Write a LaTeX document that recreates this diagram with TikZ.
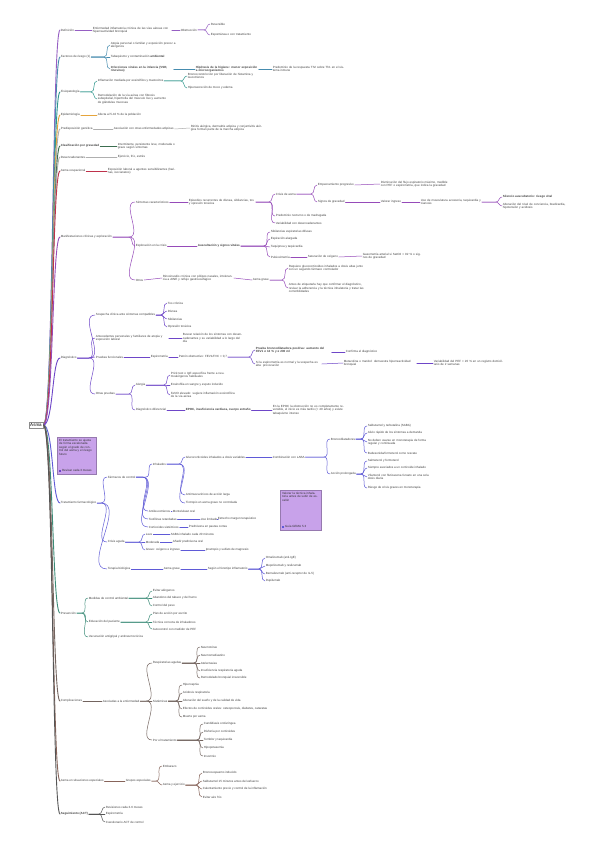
\documentclass[tikz,border=0pt]{standalone}
\usepackage{fontspec}
\setmainfont{Liberation Sans}
\usepackage{tikz}
\usetikzlibrary{calc}
\definecolor{cDef}{RGB}{150,95,195}
\definecolor{cRisk}{RGB}{70,140,175}
\definecolor{cFis}{RGB}{45,150,140}
\definecolor{cEpi}{RGB}{230,165,60}
\definecolor{cGris}{RGB}{175,175,175}
\definecolor{cCla}{RGB}{60,110,80}
\definecolor{cOcu}{RGB}{190,50,75}
\definecolor{cMan}{RGB}{150,75,185}
\definecolor{cDx}{RGB}{110,70,200}
\definecolor{cTx}{RGB}{95,90,215}
\definecolor{cPre}{RGB}{60,140,120}
\definecolor{cCom}{RGB}{115,100,95}
\definecolor{cEsp}{RGB}{135,100,90}
\definecolor{cSeg}{RGB}{85,85,85}
\definecolor{notefill}{RGB}{200,162,234}

\begin{document}
\begin{tikzpicture}[x=1pt, y=-1pt, font=\fontsize{3}{3.5}\selectfont, line cap=round,
  leaf/.style={anchor=west, inner sep=0.7pt, text=black!75},
  tw/.style={text width=#1pt, align=left},
  trunk/.style={line width=0.9pt},
  link/.style={line width=0.5pt},
  notebox/.style={anchor=north west, fill=notefill, draw=notefill!75!black, line width=0.2pt, inner sep=0pt},
  notetxt/.style={inner sep=0pt, text=black!80}]
  % Blatt
  \fill[white] (0,0) rectangle (599,848);
  \useasboundingbox (0,0) rectangle (599,848);
  % Wurzel
  \node[draw=black!45, fill=white, inner sep=1.5pt, font=\fontsize{4.5}{5}\selectfont] (root) at (36,425) {Asma};

  % Hauptzweige
  \node[leaf] (d1) at (60,30) {Definición};
  \node[leaf] (d2) at (60,57) {Factores de riesgo (1)};
  \node[leaf] (d3) at (60,92) {Fisiopatología};
  \node[leaf] (d4) at (60,115) {Epidemiología};
  \node[leaf] (d5) at (60,129) {Predisposición genética};
  \node[leaf] (d6) at (60,146) {\bfseries Clasificación por gravedad};
  \node[leaf] (d7) at (60,157) {Desencadenantes};
  \node[leaf] (d8) at (60,171) {Asma ocupacional};
  \node[leaf] (d9) at (60,237) {Manifestaciones clínicas y exploración};
  \node[leaf] (d10) at (60,358) {Diagnóstico};
  \node[leaf] (d12) at (60,503) {Tratamiento farmacológico};
  \node[leaf] (d13) at (60,613) {Prevención};
  \node[leaf] (d14) at (60,701) {Complicaciones};
  \node[leaf] (d15) at (60,781) {Asma en situaciones especiales};
  \node[leaf] (d16) at (60,814) {\bfseries Seguimiento (ACT)};
  \foreach \d/\c in {d1/cDef, d2/cRisk, d3/cFis, d4/cEpi, d5/cGris, d6/cCla, d7/cGris, d8/cOcu,
                     d9/cMan, d10/cDx, d12/cTx, d13/cPre, d14/cCom, d15/cEsp, d16/cSeg}
    \draw[trunk,\c] (root.east) .. controls +(10,0) and +(-8,0) .. (\d.west);

  % Definicion
  \begin{scope}[cDef]
    \node[leaf,tw=78] (d1a) at (92,30) {Enfermedad inflamatoria crónica de las vías aéreas con hiperreactividad bronquial};
    \node[leaf] (d1b) at (180,30) {Obstrucción};
    \node[leaf] (d1c) at (210,24) {Reversible};
    \node[leaf] (d1d) at (210,35) {Espontánea o con tratamiento};
    \draw[link] (d1.east) -- (d1a.west);
    \draw[link] (d1a.east) -- (d1b.west);
    \foreach \c in {d1c,d1d}
      \draw[link] (d1b.east) -- ($(\c.west |- d1b.east)+(-6,0)$) to[out=0,in=180] (\c.west);
  \end{scope}

  % Factores de riesgo
  \begin{scope}[cRisk]
    \node[leaf,tw=70] (d2a) at (110,45) {Atopia personal o familiar y exposición precoz a alérgenos};
    \node[leaf] (d2b) at (110,57) {Tabaquismo y contaminación \textbf{ambiental}};
    \node[leaf,tw=62] (d2c) at (110,69) {\bfseries Infecciones virales en la infancia (VSR, rinovirus)};
    \node[leaf,tw=62] (d2d) at (195,69) {\bfseries Hipótesis de la higiene: menor exposición a microorganismos};
    \node[leaf,tw=72] (d2e) at (272,69) {Predominio de la respuesta Th2 sobre Th1 en el sistema inmune};
    \foreach \c in {d2a,d2b,d2c}
      \draw[link] (d2.east) -- ($(\c.west |- d2.east)+(-6,0)$) to[out=0,in=180] (\c.west);
    \draw[line width=0.8pt] (d2c.east) -- (d2d.west);
    \draw[line width=0.8pt] (d2d.east) -- (d2e.west);
  \end{scope}

  % Fisiopatologia
  \begin{scope}[cFis]
    \node[leaf] (d3a) at (97,81) {Inflamación mediada por eosinófilos y mastocitos};
    \node[leaf,tw=68] (d3b) at (187,76) {Broncoconstricción por liberación de histamina y leucotrienos};
    \node[leaf] (d3c) at (187,88) {Hipersecreción de moco y edema};
    \node[leaf,tw=72] (d3d) at (97,99) {Remodelación de la vía aérea con fibrosis subepitelial, hipertrofia del músculo liso y aumento de glándulas mucosas};
    \foreach \c in {d3a,d3d}
      \draw[link] (d3.east) -- ($(\c.west |- d3.east)+(-6,0)$) to[out=0,in=180] (\c.west);
    \foreach \c in {d3b,d3c}
      \draw[link] (d3a.east) -- ($(\c.west |- d3a.east)+(-6,0)$) to[out=0,in=180] (\c.west);
  \end{scope}

  % kleine Zweige
  \node[leaf] (d4a) at (97,115) {Afecta al 5-10 \% de la población};
  \draw[link,cEpi] (d4.east) -- (d4a.west);
  \node[leaf] (d5a) at (113,129) {Asociación con otras enfermedades atópicas};
  \node[leaf,tw=72] (d5b) at (190,128) {Rinitis alérgica, dermatitis atópica y conjuntivitis alérgica forman parte de la marcha atópica};
  \draw[link,cGris] (d5.east) -- (d5a.west);
  \draw[link,cGris] (d5a.east) -- (d5b.west);
  \node[leaf,tw=62] (d6a) at (117,146) {Intermitente, persistente leve, moderada o grave según síntomas};
  \draw[link,cCla] (d6.east) -- (d6a.west);
  \node[leaf] (d7a) at (117,157) {Ejercicio, frío, estrés};
  \draw[link,cGris] (d7.east) -- (d7a.west);
  \node[leaf,tw=70] (d8a) at (107,171) {Exposición laboral a agentes sensibilizantes (harinas, isocianatos)};
  \draw[line width=0.8pt,cOcu] (d8.east) -- (d8a.west);

  % Manifestaciones clinicas
  \begin{scope}[cMan]
    \node[leaf] (m1) at (135,202) {Síntomas característicos};
    \node[leaf,tw=66] (m2) at (188,202) {Episodios recurrentes de disnea, sibilancias, tos y opresión torácica};
    \node[leaf] (m3) at (275,194) {Crisis de asma};
    \node[leaf] (m4) at (317,185) {Empeoramiento progresivo};
    \node[leaf,tw=72] (m5) at (380,184) {Disminución del flujo espiratorio máximo, medible con PEF o espirometría, que indica la gravedad};
    \node[leaf] (m6) at (317,202) {Signos de gravedad};
    \node[leaf] (m7) at (380,202) {Valorar ingreso};
    \node[leaf,tw=60] (m8) at (420,202) {Uso de musculatura accesoria, taquicardia y cianosis};
    \node[leaf] (m9) at (502,197) {\bfseries Silencio auscultatorio: riesgo vital};
    \node[leaf,tw=72] (m10) at (502,206) {Alteración del nivel de conciencia, bradicardia, hipotensión y acidosis};
    \node[leaf] (m11) at (275,216) {Predominio nocturno o de madrugada};
    \node[leaf] (m12) at (275,223) {Variabilidad con desencadenantes};
    \node[leaf] (m13) at (135,246) {Exploración en la crisis};
    \node[leaf] (m14) at (197,246) {\bfseries Auscultación y signos vitales};
    \node[leaf] (m15) at (270,232) {Sibilancias espiratorias difusas};
    \node[leaf] (m16) at (270,239) {Espiración alargada};
    \node[leaf] (m17) at (270,247) {Taquipnea y taquicardia};
    \node[leaf] (m18) at (270,257) {Pulsioximetría};
    \node[leaf] (m19) at (307,257) {Saturación de oxígeno};
    \node[leaf,tw=60] (m20) at (362,256) {Gasometría arterial si SatO2 < 92 \% o signos de gravedad};
    \node[leaf] (m21) at (135,280) {Otros};
    \node[leaf,tw=70] (m22) at (162,278) {Rinosinusitis crónica con pólipos nasales, intolerancia a AINE y reflujo gastroesofágico};
    \node[leaf] (m23) at (252,280) {Asma grave};
    \node[leaf,tw=75] (m24) at (288,268) {Requiere glucocorticoides inhalados a dosis altas junto con un segundo fármaco controlador};
    \node[leaf,tw=75] (m25) at (288,288) {Antes de etiquetarla hay que confirmar el diagnóstico, revisar la adherencia y la técnica inhalatoria y tratar las comorbilidades};
    \foreach \a/\b in {d9/m1, d9/m13, d9/m21, m2/m3, m2/m11, m2/m12, m3/m4, m3/m6, m8/m9, m8/m10,
                       m14/m15, m14/m16, m14/m17, m14/m18, m23/m24, m23/m25}
      \draw[link] (\a.east) -- ($(\b.west |- \a.east)+(-6,0)$) to[out=0,in=180] (\b.west);
    \foreach \a/\b in {m1/m2, m4/m5, m6/m7, m7/m8, m13/m14, m18/m19, m19/m20, m21/m22, m22/m23}
      \draw[link] (\a.east) -- (\b.west);
  \end{scope}

  % Diagnostico
  \begin{scope}[cDx]
    \node[leaf] (g1) at (95,315) {Sospecha clínica ante síntomas compatibles};
    \node[leaf] (g2) at (167,303) {Tos crónica};
    \node[leaf] (g3) at (167,311) {Disnea};
    \node[leaf] (g4) at (167,319) {Sibilancias};
    \node[leaf] (g5) at (167,327) {Opresión torácica};
    \node[leaf,tw=72] (g6) at (95,338) {Antecedentes personales y familiares de atopia y exposición laboral};
    \node[leaf,tw=62] (g7) at (182,338) {Buscar relación de los síntomas con desencadenantes y su variabilidad a lo largo del día};
    \node[leaf] (g8) at (95,357) {Pruebas funcionales};
    \node[leaf] (g9) at (150,357) {Espirometría};
    \node[leaf] (g10) at (178,357) {Patrón obstructivo: FEV1/FVC < 0,7};
    \node[leaf,tw=75] (g11) at (255,350) {\bfseries Prueba broncodilatadora positiva: aumento del FEV1 ≥ 12 \% y ≥ 200 ml};
    \node[leaf] (g12) at (345,352) {Confirma el diagnóstico};
    \node[leaf,tw=65] (g13) at (255,364) {Si la espirometría es normal y la sospecha es alta: provocación};
    \node[leaf,tw=72] (g14) at (343,363) {Metacolina o manitol: demuestra hiperreactividad bronquial};
    \node[leaf,tw=72] (g15) at (433,363) {Variabilidad del PEF > 20 \% en un registro domiciliario de 2 semanas};
    \node[leaf] (g16) at (95,394) {Otras pruebas};
    \node[leaf] (g17) at (135,385) {Alergia};
    \node[leaf,tw=66] (g18) at (170,375) {Prick test o IgE específica frente a neumoalérgenos habituales};
    \node[leaf] (g19) at (170,385) {Eosinofilia en sangre y esputo inducido};
    \node[leaf,tw=66] (g20) at (170,395) {FeNO elevado: sugiere inflamación eosinofílica de la vía aérea};
    \node[leaf] (g21) at (135,410) {Diagnóstico diferencial};
    \node[leaf] (g22) at (185,410) {\bfseries EPOC, insuficiencia cardiaca, cuerpo extraño};
    \node[leaf,tw=75] (g23) at (272,410) {En la EPOC la obstrucción no es completamente reversible, el inicio es más tardío (> 40 años) y existe tabaquismo intenso};
    \foreach \a/\b in {d10/g1, d10/g6, d10/g8, d10/g16, g1/g2, g1/g3, g1/g4, g1/g5, g10/g11, g10/g13,
                       g16/g17, g16/g21, g17/g18, g17/g19, g17/g20}
      \draw[link] (\a.east) -- ($(\b.west |- \a.east)+(-6,0)$) to[out=0,in=180] (\b.west);
    \foreach \a/\b in {g6/g7, g8/g9, g9/g10, g13/g14, g14/g15, g21/g22}
      \draw[link] (\a.east) -- (\b.west);
    \draw[line width=0.8pt] (g11.east |- g12.west) -- (g12.west);
    \draw[line width=0.8pt] (g22.east) -- (g23.west);
  \end{scope}

  % Notiz 1
  \node[notebox, minimum width=39pt, minimum height=37pt] (n1) at (57,437) {};
  \node[notetxt, anchor=north west, tw=35] (n1t) at ($(n1.north west)+(2,2)$) {El tratamiento se ajusta de forma escalonada según el grado de control del asma y el riesgo futuro};
  \node[notetxt, anchor=south west] (n1i) at ($(n1.south west)+(2,-2)$) {\textcolor{cDx}{\rule{2pt}{2pt}} Revisar cada 3 meses};

  % Tratamiento
  \begin{scope}[cTx]
    \node[leaf] (t1) at (107,477) {Fármacos de control};
    \node[leaf] (t2) at (152,464) {Inhalados};
    \node[leaf] (t3) at (185,457) {Glucocorticoides inhalados a dosis variables};
    \node[leaf] (t4) at (272,457) {Combinación con LABA};
    \node[leaf] (t5) at (330,439) {Broncodilatadores};
    \node[leaf] (t6) at (367,426) {Salbutamol y terbutalina (SABA)};
    \node[leaf] (t7) at (367,433) {Alivio rápido de los síntomas a demanda};
    \node[leaf,tw=62] (t8) at (367,442) {No deben usarse en monoterapia de forma regular y continuada};
    \node[leaf] (t9) at (367,453) {Budesonida/formoterol como rescate};
    \node[leaf] (t10) at (330,474) {Acción prolongada};
    \node[leaf] (t11) at (367,461) {Salmeterol y formoterol};
    \node[leaf] (t12) at (367,468) {Siempre asociados a un corticoide inhalado};
    \node[leaf,tw=62] (t13) at (367,477) {Vilanterol con fluticasona furoato en una sola dosis diaria};
    \node[leaf] (t14) at (367,488) {Riesgo de crisis graves en monoterapia};
    \node[leaf] (t15) at (185,495) {Antimuscarínicos de acción larga};
    \node[leaf] (t16) at (185,503) {Tiotropio en asma grave no controlada};
    \node[leaf] (t17) at (148,511) {Antileucotrienos};
    \node[leaf] (t18) at (172,511) {Montelukast oral};
    \node[leaf] (t19) at (148,519) {Teofilinas retardadas};
    \node[leaf] (t20) at (200,519) {Uso limitado};
    \node[leaf] (t21) at (217,519) {Estrecho margen terapéutico};
    \node[leaf] (t22) at (148,527) {Corticoides sistémicos};
    \node[leaf] (t23) at (188,527) {Prednisona en pautas cortas};
    \node[leaf] (t24) at (107,542) {Crisis aguda};
    \node[leaf] (t25) at (145,534) {Leve};
    \node[leaf] (t26) at (170,534) {SABA inhalado cada 20 minutos};
    \node[leaf] (t27) at (145,542) {Moderada};
    \node[leaf] (t28) at (172,542) {Añadir prednisona oral};
    \node[leaf] (t29) at (145,550) {Grave: oxígeno e ingreso};
    \node[leaf] (t30) at (205,550) {Ipratropio y sulfato de magnesio};
    \node[leaf] (t31) at (107,569) {Terapia biológica};
    \node[leaf] (t32) at (163,569) {Asma grave};
    \node[leaf] (t33) at (207,569) {Según el fenotipo inflamatorio};
    \node[leaf] (t34) at (265,558) {Omalizumab (anti-IgE)};
    \node[leaf] (t35) at (265,566) {Mepolizumab y reslizumab};
    \node[leaf] (t36) at (265,574) {Benralizumab (anti-receptor de IL-5)};
    \node[leaf] (t37) at (265,581) {Dupilumab};
    \foreach \a/\b in {d12/t1, d12/t24, d12/t31, t1/t2, t1/t17, t1/t19, t1/t22, t2/t3, t2/t15, t2/t16,
                       t4/t5, t4/t10, t5/t6, t5/t7, t5/t8, t5/t9, t10/t11, t10/t12, t10/t13, t10/t14,
                       t24/t25, t24/t27, t24/t29, t33/t34, t33/t35, t33/t36, t33/t37}
      \draw[link] (\a.east) -- ($(\b.west |- \a.east)+(-6,0)$) to[out=0,in=180] (\b.west);
    \foreach \a/\b in {t3/t4, t17/t18, t19/t20, t20/t21, t22/t23, t25/t26, t27/t28, t29/t30, t31/t32, t32/t33}
      \draw[link] (\a.east) -- (\b.west);
  \end{scope}

  % Notiz 2
  \node[notebox, minimum width=41pt, minimum height=40pt] (n2) at (280,490) {};
  \node[notetxt, anchor=north west, tw=37] (n2t) at ($(n2.north west)+(2,2)$) {Valorar la técnica inhalatoria antes de subir de escalón};
  \node[notetxt, anchor=south west] (n2i) at ($(n2.south west)+(2,-2)$) {\textcolor{cTx}{\rule{2pt}{2pt}} Guía GEMA 5.3};

  % Prevencion
  \begin{scope}[cPre]
    \node[leaf] (p1) at (88,598) {Medidas de control ambiental};
    \node[leaf] (p2) at (152,591) {Evitar alérgenos};
    \node[leaf] (p3) at (152,598) {Abandono del tabaco y del humo};
    \node[leaf] (p4) at (152,606) {Control del peso};
    \node[leaf] (p5) at (88,622) {Educación del paciente};
    \node[leaf] (p6) at (152,614) {Plan de acción por escrito};
    \node[leaf] (p7) at (152,622) {Técnica correcta de inhaladores};
    \node[leaf] (p8) at (152,629) {Autocontrol con medidor de PEF};
    \node[leaf] (p9) at (88,637) {Vacunación antigripal y antineumocócica};
    \foreach \a/\b in {d13/p1, d13/p5, d13/p9, p1/p2, p1/p3, p1/p4, p5/p6, p5/p7, p5/p8}
      \draw[link] (\a.east) -- ($(\b.west |- \a.east)+(-6,0)$) to[out=0,in=180] (\b.west);
  \end{scope}

  % Complicaciones
  \begin{scope}[cCom]
    \node[leaf] (c1) at (102,701) {Asociadas a la enfermedad};
    \node[leaf] (c2) at (152,663) {Respiratorias agudas};
    \node[leaf] (c3) at (200,647) {Neumotórax};
    \node[leaf] (c4) at (200,655) {Neumomediastino};
    \node[leaf] (c5) at (200,663) {Atelectasias};
    \node[leaf] (c6) at (200,671) {Insuficiencia respiratoria aguda};
    \node[leaf] (c7) at (200,678) {Remodelado bronquial irreversible};
    \node[leaf] (c8) at (152,701) {Sistémicas};
    \node[leaf] (c9) at (182,685) {Hipercapnia};
    \node[leaf] (c10) at (182,693) {Acidosis respiratoria};
    \node[leaf] (c11) at (182,701) {Alteración del sueño y de la calidad de vida};
    \node[leaf] (c12) at (182,709) {Efectos de corticoides orales: osteoporosis, diabetes, cataratas};
    \node[leaf] (c13) at (182,717) {Muerte por asma};
    \node[leaf] (c14) at (152,740) {Por el tratamiento};
    \node[leaf] (c15) at (203,724) {Candidiasis orofaríngea};
    \node[leaf] (c16) at (203,732) {Disfonía por corticoides};
    \node[leaf] (c17) at (203,740) {Temblor y taquicardia};
    \node[leaf] (c18) at (203,748) {Hipopotasemia};
    \node[leaf] (c19) at (203,756) {Insomnio};
    \draw[link] (d14.east) -- (c1.west);
    \foreach \a/\b in {c1/c2, c1/c8, c1/c14, c2/c3, c2/c4, c2/c5, c2/c6, c2/c7, c8/c9, c8/c10, c8/c11,
                       c8/c12, c8/c13, c14/c15, c14/c16, c14/c17, c14/c18, c14/c19}
      \draw[link] (\a.east) -- ($(\b.west |- \a.east)+(-6,0)$) to[out=0,in=180] (\b.west);
  \end{scope}

  % Situaciones especiales
  \begin{scope}[cEsp]
    \node[leaf] (s1) at (125,781) {Grupos especiales};
    \node[leaf] (s2) at (162,766) {Embarazo};
    \node[leaf] (s3) at (162,785) {Asma y ejercicio};
    \node[leaf] (s4) at (202,773) {Broncoespasmo inducido};
    \node[leaf] (s5) at (202,781) {Salbutamol 15 minutos antes del esfuerzo};
    \node[leaf] (s6) at (202,789) {Calentamiento previo y control de la inflamación};
    \node[leaf] (s7) at (202,797) {Evitar aire frío};
    \draw[link] (d15.east) -- (s1.west);
    \foreach \a/\b in {s1/s2, s1/s3, s3/s4, s3/s5, s3/s6, s3/s7}
      \draw[link] (\a.east) -- ($(\b.west |- \a.east)+(-6,0)$) to[out=0,in=180] (\b.west);
  \end{scope}

  % Seguimiento
  \begin{scope}[cSeg]
    \node[leaf] (f1) at (105,807) {Revisiones cada 3-6 meses};
    \node[leaf] (f2) at (105,814) {Espirometría};
    \node[leaf] (f3) at (105,822) {Cuestionario ACT de control};
    \foreach \b in {f1,f2,f3}
      \draw[link] (d16.east) -- ($(\b.west |- d16.east)+(-6,0)$) to[out=0,in=180] (\b.west);
  \end{scope}
\end{tikzpicture}
\end{document}
